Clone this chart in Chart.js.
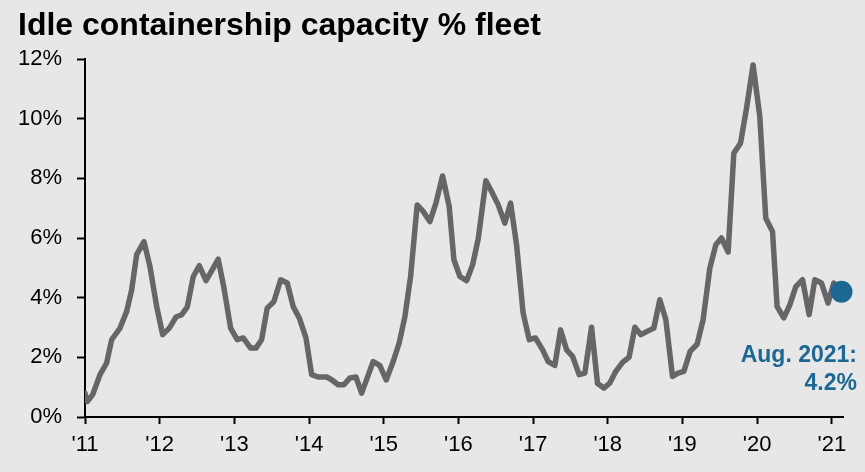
<!DOCTYPE html>
<html>
<head>
<meta charset="utf-8">
<title>Idle containership capacity % fleet</title>
<script src="https://cdn.jsdelivr.net/npm/chart.js@4.4.1/dist/chart.umd.min.js"></script>
<style>
  html, body { margin: 0; padding: 0; background: #e7e7e7; }
  #wrap { position: relative; width: 865px; height: 472px; }
  canvas { display: block; }
</style>
</head>
<body>
<div id="wrap"><canvas id="chart" width="865" height="472"></canvas></div>
<script>
// Idle containership capacity as a share of the global fleet (%), roughly monthly.
const dates = [
  2011.000, 2011.031, 2011.103, 2011.201, 2011.290, 2011.357, 2011.469, 2011.558, 2011.625, 2011.692,
  2011.790, 2011.870, 2011.960, 2012.040, 2012.129, 2012.218, 2012.295, 2012.369, 2012.450, 2012.530,
  2012.620, 2012.709, 2012.784, 2012.861, 2012.950, 2013.039, 2013.119, 2013.218, 2013.289, 2013.365,
  2013.440, 2013.530, 2013.620, 2013.708, 2013.788, 2013.869, 2013.959, 2014.035, 2014.123, 2014.236,
  2014.303, 2014.391, 2014.467, 2014.548, 2014.628, 2014.704, 2014.779, 2014.859, 2014.949, 2015.033,
  2015.127, 2015.207, 2015.284, 2015.360, 2015.448, 2015.529, 2015.618, 2015.699, 2015.788, 2015.877,
  2015.940, 2016.020, 2016.110, 2016.190, 2016.265, 2016.368, 2016.444, 2016.533, 2016.622, 2016.699,
  2016.779, 2016.867, 2016.948, 2017.031, 2017.128, 2017.202, 2017.292, 2017.368, 2017.449, 2017.529,
  2017.617, 2017.693, 2017.783, 2017.863, 2017.948, 2018.028, 2018.108, 2018.198, 2018.286, 2018.363,
  2018.443, 2018.528, 2018.617, 2018.697, 2018.778, 2018.867, 2018.942, 2019.019, 2019.103, 2019.197,
  2019.277, 2019.367, 2019.447, 2019.523, 2019.612, 2019.688, 2019.778, 2019.858, 2019.946, 2020.036,
  2020.116, 2020.206, 2020.268, 2020.357, 2020.438, 2020.518, 2020.608, 2020.697, 2020.772, 2020.862,
  2020.950, 2021.027, 2021.130
];

const idleShare = [
  0.80, 0.52, 0.75, 1.42, 1.81, 2.59, 2.98, 3.54, 4.26, 5.44,
  5.88, 5.04, 3.70, 2.76, 2.98, 3.35, 3.43, 3.68, 4.71, 5.07,
  4.57, 4.96, 5.29, 4.32, 2.98, 2.59, 2.65, 2.31, 2.31, 2.59,
  3.65, 3.87, 4.60, 4.49, 3.70, 3.32, 2.65, 1.42, 1.34, 1.34,
  1.25, 1.08, 1.08, 1.31, 1.34, 0.80, 1.31, 1.86, 1.72, 1.24,
  1.86, 2.48, 3.37, 4.71, 7.11, 6.89, 6.55, 7.17, 8.08, 7.05,
  5.27, 4.71, 4.57, 5.10, 5.96, 7.92, 7.56, 7.11, 6.50, 7.17,
  5.77, 3.48, 2.59, 2.65, 2.25, 1.86, 1.73, 2.92, 2.25, 2.03,
  1.42, 1.47, 3.01, 1.12, 0.97, 1.14, 1.53, 1.83, 2.01, 3.01,
  2.76, 2.87, 2.98, 3.93, 3.26, 1.36, 1.47, 1.53, 2.20, 2.44,
  3.26, 4.99, 5.77, 6.00, 5.53, 8.84, 9.18, 10.35, 11.80, 10.07,
  6.66, 6.22, 3.70, 3.32, 3.76, 4.37, 4.60, 3.43, 4.60, 4.49,
  3.82, 4.49, 4.2
];

// Latest reading, highlighted with a dot and a callout.
const latestLabel = 'Aug. 2021';
const latestValue = 4.2;

// Axis ticks
const yearTicks = [2011, 2012, 2013, 2014, 2015, 2016, 2017, 2018, 2019, 2020, 2021];
const yearLabels = ["'11", "'12", "'13", "'14", "'15", "'16", "'17", "'18", "'19", "'20", "'21"];
const pctTicks = [0, 2, 4, 6, 8, 10, 12];
const pctLabels = ['0%', '2%', '4%', '6%', '8%', '10%', '12%'];

const FONT = '"Liberation Sans", Arial, Helvetica, sans-serif';
const BLUE = '#1d6892';

const series = dates.map((d, i) => ({ x: d, y: idleShare[i] }));
const latestPoint = [{ x: dates[dates.length - 1], y: latestValue }];

const titlePlugin = {
  id: 'chartTitle',
  afterDraw(chart) {
    const ctx = chart.ctx;
    ctx.save();
    ctx.font = 'bold 32px ' + FONT;
    ctx.fillStyle = '#000';
    ctx.textAlign = 'left';
    ctx.textBaseline = 'alphabetic';
    ctx.fillText('Idle containership capacity % fleet', 18, 35);
    ctx.restore();
  }
};

const calloutPlugin = {
  id: 'latestCallout',
  afterDatasetsDraw(chart) {
    const { ctx, chartArea } = chart;
    const x = chartArea.right + 14;
    ctx.save();
    ctx.font = 'bold 23px ' + FONT;
    ctx.fillStyle = BLUE;
    ctx.textAlign = 'right';
    ctx.textBaseline = 'alphabetic';
    ctx.fillText(latestLabel + ':', x, 362);
    ctx.fillText(latestValue.toFixed(1) + '%', x, 390);
    ctx.restore();
  }
};

new Chart(document.getElementById('chart'), {
  type: 'line',
  data: {
    datasets: [
      {
        data: latestPoint,
        showLine: false,
        pointRadius: 11,
        pointBackgroundColor: BLUE,
        pointBorderWidth: 0,
        clip: false,
        order: 1
      },
      {
        data: series,
        borderColor: '#666666',
        borderWidth: 5.5,
        pointRadius: 0,
        tension: 0,
        borderJoinStyle: 'round',
        borderCapStyle: 'round',
        fill: false,
        order: 2
      }
    ]
  },
  options: {
    responsive: false,
    animation: false,
    events: [],
    layout: { padding: { top: 59, right: 22, left: 0, bottom: 0 } },
    plugins: {
      legend: { display: false },
      tooltip: { enabled: false },
      title: { display: false }
    },
    scales: {
      x: {
        type: 'linear',
        min: 2011,
        max: 2021.15,
        afterBuildTicks(scale) {
          scale.ticks = yearTicks.map(v => ({ value: v }));
        },
        afterFit(scale) { scale.height = 55; },
        ticks: {
          autoSkip: false,
          maxRotation: 0,
          padding: 8,
          color: '#000',
          font: { family: FONT, size: 22 },
          callback: (v) => yearLabels[yearTicks.indexOf(Math.round(v))] ?? ''
        },
        grid: {
          drawOnChartArea: false,
          drawTicks: true,
          tickLength: 7,
          tickWidth: 2,
          tickColor: '#000'
        },
        border: { display: true, color: '#000', width: 2 }
      },
      y: {
        min: 0,
        max: 12,
        afterBuildTicks(scale) {
          scale.ticks = pctTicks.map(v => ({ value: v }));
        },
        afterFit(scale) { scale.width = 85; },
        ticks: {
          padding: 15,
          color: '#000',
          font: { family: FONT, size: 22 },
          callback: (v) => pctLabels[pctTicks.indexOf(v)] ?? ''
        },
        grid: {
          drawOnChartArea: false,
          drawTicks: true,
          tickLength: 8,
          tickWidth: 2,
          tickColor: '#000'
        },
        border: { display: true, color: '#000', width: 2 }
      }
    }
  },
  plugins: [titlePlugin, calloutPlugin]
});
</script>
</body>
</html>
